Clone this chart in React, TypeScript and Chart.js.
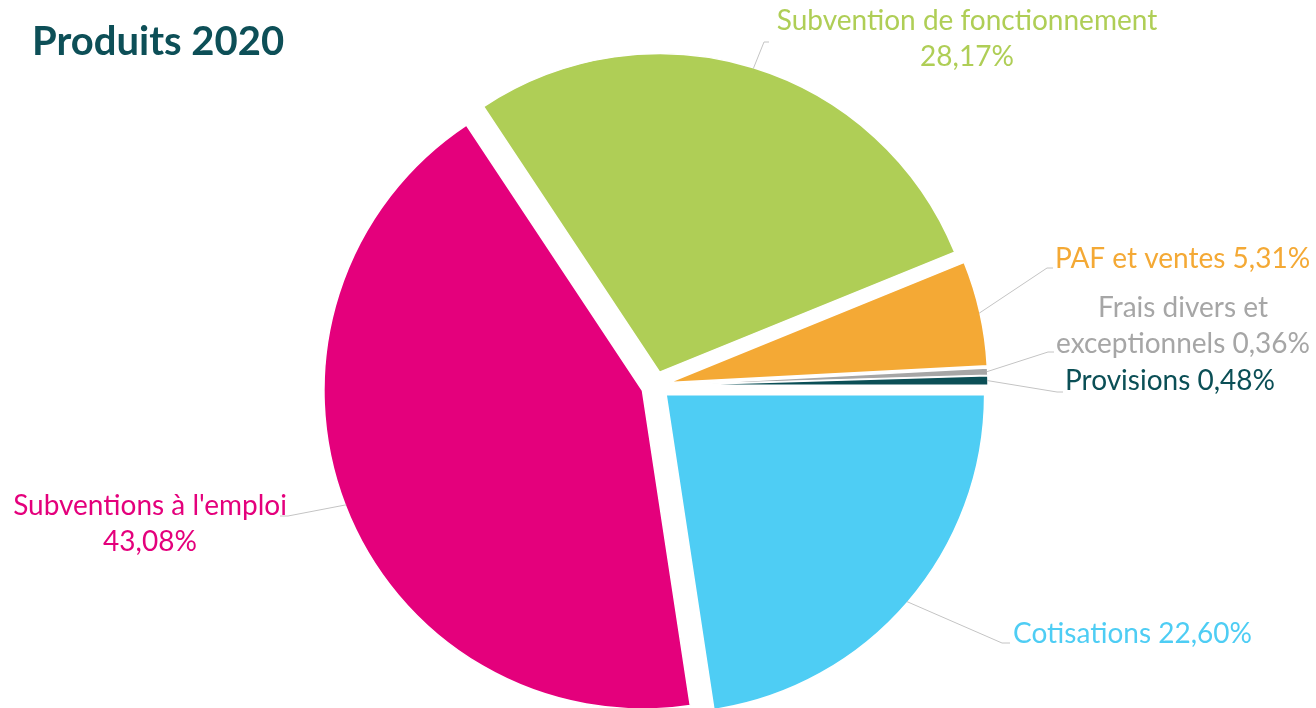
import React, { useEffect, useRef } from "react";
import { Chart, registerables } from "chart.js";

Chart.register(...registerables);

// ---- data ----
const chartTitle = "Produits 2020";
const categories = [
  "Cotisations",
  "Subventions à l'emploi",
  "Subvention de fonctionnement",
  "PAF et ventes",
  "Frais divers et exceptionnels",
  "Provisions",
];
const values = [22.6, 43.08, 28.17, 5.31, 0.36, 0.48];
const sliceColors = ["#4ecdf4", "#e4007c", "#afce56", "#f4a935", "#a6a6a6", "#0b4f56"];

// ---- layout / style (not data) ----
const explode = 14;
const pieRadius = 318.5;
const labelFont = "28px Lato";
const labelLineHeight = 36;
// wordsOnFirstLine: undefined -> single line "name pct"
const labelLayout: {
  x: number;
  y: number;
  align: CanvasTextAlign;
  wordsOnFirstLine?: number;
  elbow: [number, number];
  end: [number, number];
}[] = [
  { x: 1013, y: 643, align: "left", elbow: [1002, 643], end: [1010, 643] },
  { x: 150, y: 515, align: "center", wordsOnFirstLine: 3, elbow: [288, 516], end: [280, 516] },
  { x: 967, y: 30, align: "center", wordsOnFirstLine: 3, elbow: [764, 42], end: [769, 42] },
  { x: 1055, y: 268, align: "left", elbow: [1047, 268], end: [1053, 268] },
  { x: 1183, y: 317, align: "center", wordsOnFirstLine: 3, elbow: [1048, 352], end: [1054, 352] },
  { x: 1065, y: 390, align: "left", elbow: [1057, 392], end: [1063, 392] },
];

const fmtPct = (v: number) => v.toFixed(2).replace(".", ",") + "%";

function labelLines(i: number): string[] {
  const name = categories[i];
  const pct = fmtPct(values[i]);
  const n = labelLayout[i].wordsOnFirstLine;
  if (n === undefined) return [name + " " + pct];
  const words = name.split(" ");
  const first = words.slice(0, n).join(" ");
  const rest = words.slice(n).join(" ");
  return [first, rest ? rest + " " + pct : pct];
}

export default function App() {
  const ref = useRef<HTMLCanvasElement>(null);

  useEffect(() => {
    if (!ref.current) return;

    const explodePlugin = {
      id: "explodeSlices",
      beforeDatasetDraw(chart: any, args: any) {
        const ctx = chart.ctx;
        args.meta.data.forEach((arc: any) => {
          const { startAngle, endAngle } = arc.getProps(["startAngle", "endAngle"], true);
          const mid = (startAngle + endAngle) / 2;
          ctx.save();
          ctx.translate(Math.cos(mid) * explode, Math.sin(mid) * explode);
          arc.draw(ctx);
          ctx.restore();
        });
        return false;
      },
    };

    const labelPlugin = {
      id: "sliceLabels",
      afterDraw(chart: any) {
        const ctx = chart.ctx as CanvasRenderingContext2D;
        ctx.save();
        // title
        ctx.font = "bold 40px Lato";
        ctx.fillStyle = "#0d4f57";
        ctx.textAlign = "left";
        ctx.textBaseline = "alphabetic";
        ctx.fillText(chartTitle, 32, 55);

        const meta = chart.getDatasetMeta(0);
        meta.data.forEach((arc: any, i: number) => {
          const { x, y, startAngle, endAngle, outerRadius } = arc.getProps(
            ["x", "y", "startAngle", "endAngle", "outerRadius"],
            true
          );
          const mid = (startAngle + endAngle) / 2;
          const sx = x + Math.cos(mid) * (explode + outerRadius - 1);
          const sy = y + Math.sin(mid) * (explode + outerRadius - 1);
          const L = labelLayout[i];
          ctx.beginPath();
          ctx.strokeStyle = "#c4c4c4";
          ctx.lineWidth = 1;
          ctx.moveTo(sx, sy);
          ctx.lineTo(L.elbow[0], L.elbow[1]);
          ctx.lineTo(L.end[0], L.end[1]);
          ctx.stroke();

          ctx.font = labelFont;
          ctx.fillStyle = sliceColors[i];
          ctx.textAlign = L.align;
          labelLines(i).forEach((line, k) => {
            ctx.fillText(line, L.x, L.y + k * labelLineHeight);
          });
        });
        ctx.restore();
      },
    };

    const chart = new Chart(ref.current, {
      type: "pie",
      data: {
        labels: categories,
        datasets: [
          {
            data: values,
            backgroundColor: sliceColors,
            borderColor: "#ffffff",
            borderWidth: 1.5,
            radius: pieRadius,
          } as any,
        ],
      },
      options: {
        responsive: false,
        animation: false,
        rotation: 90,
        layout: { padding: { top: 63, right: 5, bottom: 0, left: 0 } },
        plugins: {
          legend: { display: false },
          tooltip: { enabled: false },
          title: { display: false },
        },
      },
      plugins: [explodePlugin, labelPlugin],
    });

    return () => chart.destroy();
  }, []);

  return (
    <div style={{ position: "fixed", left: 0, top: 0, width: 1316, height: 708, background: "#fff" }}>
      <canvas ref={ref} width={1316} height={708} style={{ display: "block" }} />
    </div>
  );
}
